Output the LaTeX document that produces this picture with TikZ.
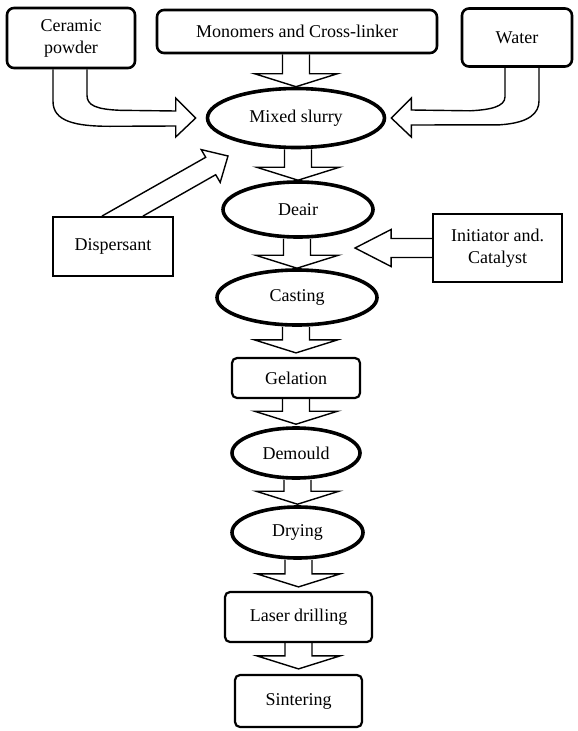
\documentclass[tikz,border=0pt]{standalone}
\usepackage{fontspec}
\setmainfont{Liberation Serif}
\usetikzlibrary{shapes.geometric,calc}

% straight block arrow from the bottom of #1 down to the top of #2,
% ending #3 above the target
\newcommand\flowarrow[3]{%
  \draw[blockarrow]
    ($(#2.north |- #1.south)+(-13.5,0)$) --
    ($(#2.north)+(-13.5,-13-#3)$) --
    ($(#2.north)+(-41.5,-13-#3)$) --
    ($(#2.north)+(0,-#3)$) --
    ($(#2.north)+(41.5,-13-#3)$) --
    ($(#2.north)+(13.5,-13-#3)$) --
    ($(#2.north |- #1.south)+(13.5,0)$);
}

\begin{document}
\begin{tikzpicture}[x=1pt,y=-1pt,
  every node/.style={font=\fontsize{18}{22}\selectfont, align=center, inner sep=0pt},
  topbox/.style={draw, rounded corners=7pt, line width=2.6pt},
  stepbox/.style={draw, rounded corners=5pt, line width=2.2pt},
  plainbox/.style={draw, line width=1.9pt},
  oval/.style={draw, ellipse, line width=3.6pt},
  blockarrow/.style={draw, line width=1.4pt, line join=miter},
]
\useasboundingbox[fill=white] (0,0) rectangle (578,731);

% ingredients
\node[topbox, minimum width=128pt, minimum height=60pt] (cer) at (71,38) {Ceramic\\powder};
\node[topbox, minimum width=280pt, minimum height=43pt] (mon) at (297,31.5) {Monomers and Cross-linker};
\node[topbox, minimum width=110pt, minimum height=58pt] (wat) at (517,37.5) {Water};
\node[plainbox, minimum width=120pt, minimum height=59pt] (dis) at (113,246.5) {Dispersant};
\node[plainbox, minimum width=129pt, minimum height=68pt] (ini) at (497.5,248) {Initiator and.\\Catalyst};

% process steps
\node[oval, minimum width=177pt, minimum height=59pt] (mix) at (296,118) {Mixed slurry};
\node[oval, minimum width=150pt, minimum height=55pt] (dea) at (298,209.5) {Deair};
\node[oval, minimum width=160pt, minimum height=55pt] (cas) at (297,297.5) {Casting};
\node[stepbox, minimum width=128pt, minimum height=40pt] (gel) at (296,378) {Gelation};
\node[oval, minimum width=128pt, minimum height=50pt] (dem) at (296,453) {Demould};
\node[oval, minimum width=131pt, minimum height=51pt] (dry) at (297.5,532.5) {Drying};
\node[stepbox, minimum width=147pt, minimum height=50pt] (las) at (298.5,617) {Laser drilling};
\node[stepbox, minimum width=127pt, minimum height=52pt] (sin) at (298.5,701) {Sintering};

% arrow tips of the side feeds
\coordinate (tipL) at ($(mix.west)+(-10,0)$);
\coordinate (tipR) at ($(mix.east)+(5,0)$);
\coordinate (tipD) at ($(mix.center)+(-68,38)$);

% ceramic powder: bent arrow into the slurry
\draw[blockarrow]
  ($(cer.south)+(-18,0)$) -- ($(cer.south)+(-18,32)$)
  .. controls ($(cer.south)+(-18,52)$) and ($(cer.south)+(4,57)$) .. ($(cer.south)+(39,57)$)
  -- ($(tipL)+(-20,8)$) -- ($(tipL)+(-20,19)$) -- (tipL) -- ($(tipL)+(-20,-20)$) -- ($(tipL)+(-20,-7)$)
  -- ($(cer.south)+(49,41)$)
  .. controls ($(cer.south)+(25,40)$) and ($(cer.south)+(16,36)$) .. ($(cer.south)+(16,26)$)
  -- ($(cer.south)+(16,0)$);

% water: bent arrow into the slurry
\draw[blockarrow]
  ($(wat.south)+(-12,0)$) -- ($(wat.south)+(-12,29)$)
  .. controls ($(wat.south)+(-12,39)$) and ($(wat.south)+(-27,42)$) .. ($(wat.south)+(-47,43)$)
  -- ($(tipR)+(20,-8)$) -- ($(tipR)+(20,-20)$) -- (tipR) -- ($(tipR)+(20,19)$) -- ($(tipR)+(20,7)$)
  -- ($(wat.south)+(-17,57)$)
  .. controls ($(wat.south)+(13,55)$) and ($(wat.south)+(22,45)$) .. ($(wat.south)+(22,33)$)
  -- ($(wat.south)+(22,0)$);

% dispersant: slanted arrow
\draw[blockarrow]
  ($(dis.north)+(-11,0)$) -- ($(tipD)+(-22.3,1.3)$) -- ($(tipD)+(-26.8,-6.4)$) -- (tipD)
  -- ($(tipD)+(-7.8,26.4)$) -- ($(tipD)+(-12.3,18.7)$) -- ($(dis.north)+(30,0)$);

% initiator and catalyst: arrow to the left
\draw[blockarrow]
  ($(ini.west)+(0,-9.5)$) -- ($(ini.west)+(-41,-9.5)$) -- ($(ini.west)+(-41,-18.5)$)
  -- ($(ini.west)+(-77,0)$) -- ($(ini.west)+(-41,18.5)$) -- ($(ini.west)+(-41,9.5)$)
  -- ($(ini.west)+(0,9.5)$);

% main flow
\flowarrow{mon}{mix}{0}
\flowarrow{mix}{dea}{0}
\flowarrow{dea}{cas}{0}
\flowarrow{cas}{gel}{4}
\flowarrow{gel}{dem}{2}
\flowarrow{dem}{dry}{1}
\flowarrow{dry}{las}{4}
\flowarrow{las}{sin}{5}
\end{tikzpicture}
\end{document}
